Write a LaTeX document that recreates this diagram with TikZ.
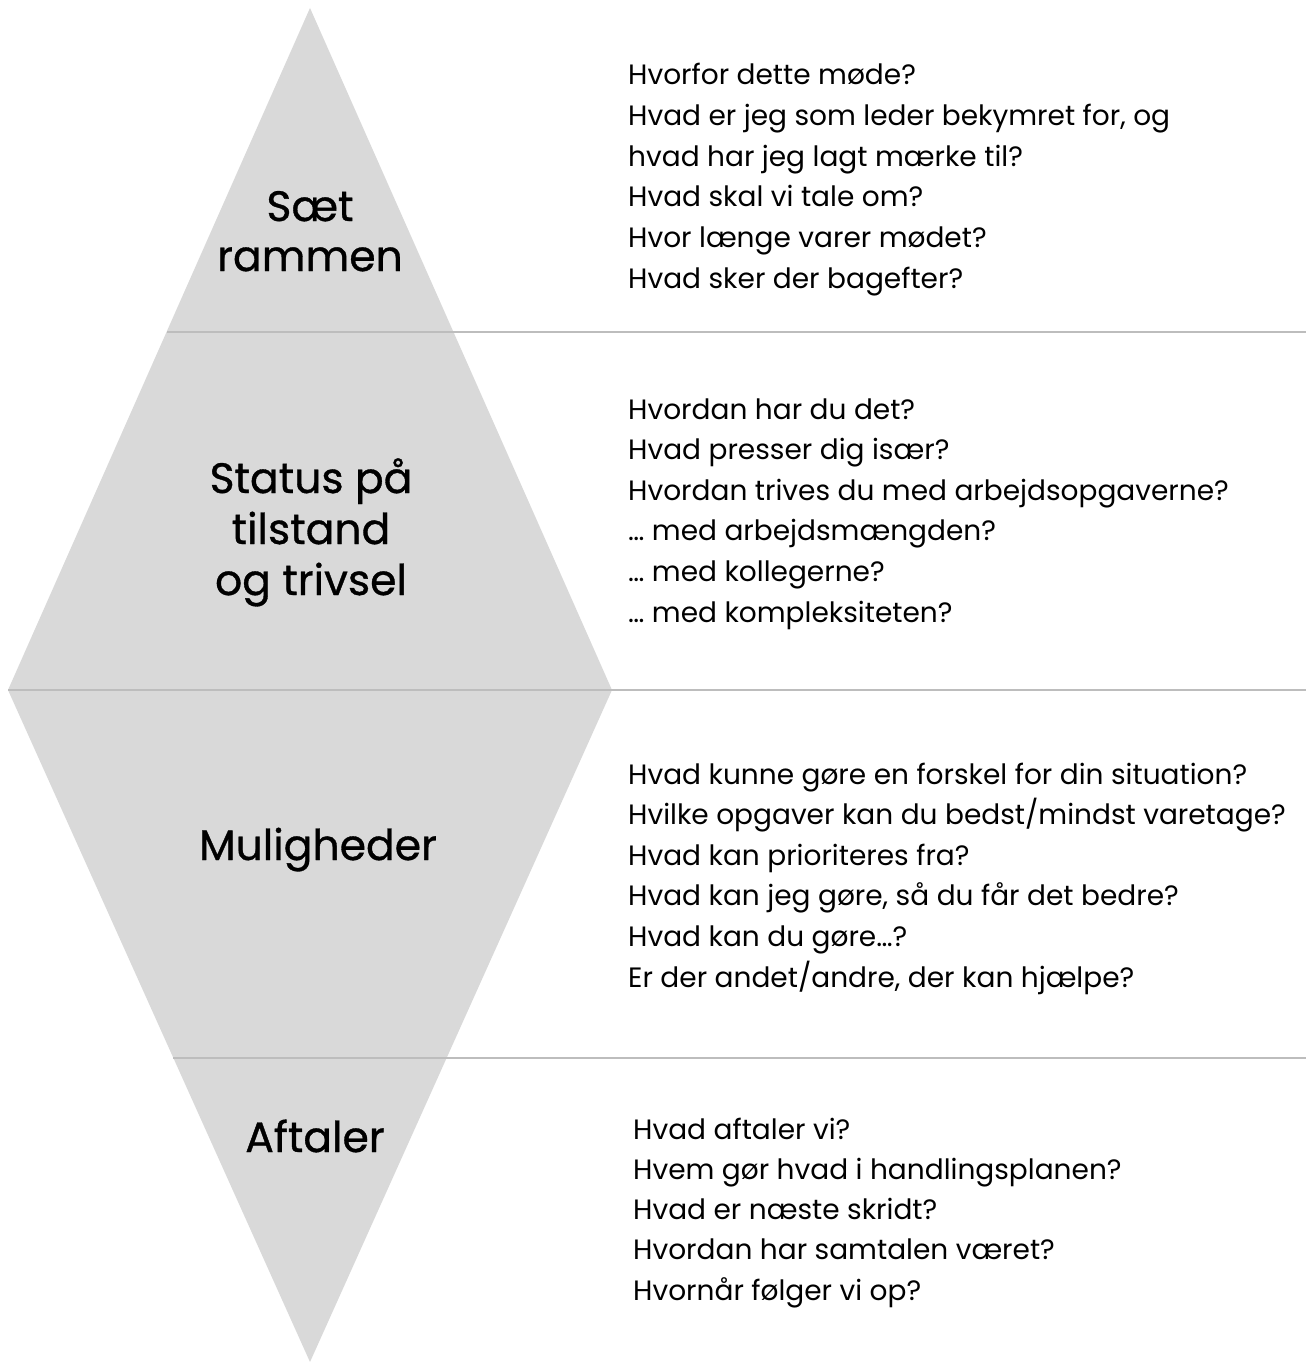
\documentclass[tikz,border=0pt]{standalone}
\usepackage{fontspec}
\setmainfont{Poppins}
\newfontfamily\titlefont[FakeBold=0.8]{Poppins}
\definecolor{diamondfill}{HTML}{D9D9D9}
\definecolor{sepline}{HTML}{BDBDBD}
\tikzset{
  qtext/.style={anchor=base west, inner sep=0pt, font=\fontsize{28}{40}\selectfont, text=black},
  ttext/.style={anchor=base, inner sep=0pt, font=\titlefont\fontsize{42.5}{51}\selectfont, text=black},
  sep/.style={draw=sepline, line width=1.6pt}
}
\begin{document}
\begin{tikzpicture}[x=1pt,y=-1pt]
\useasboundingbox (0,0) rectangle (1308,1362);
% diamond
\coordinate (top) at (310,8);
\coordinate (right) at (612,690);
\coordinate (bottom) at (310,1362);
\coordinate (left) at (8,690);
\fill[diamondfill] (top) -- (right) -- (bottom) -- (left) -- cycle;
% separators
\coordinate (s1a) at (167,332);   \coordinate (s1b) at (1306,332);
\coordinate (s2a) at (8,690);     \coordinate (s2b) at (1306,690);
\coordinate (s3a) at (173,1058);  \coordinate (s3b) at (1306,1058);
\draw[sep] (s1a) -- (s1b);
\draw[sep] (s2a) -- (s2b);
\draw[sep] (s3a) -- (s3b);
% titles
\node[ttext] (t1a) at (310,221) {Sæt};
\node[ttext] (t1b) at (310,271) {rammen};
\node[ttext] (t2a) at (311,493) {Status på};
\node[ttext] (t2b) at (311,544) {tilstand};
\node[ttext] (t2c) at (311,595) {og trivsel};
\node[ttext] (t3) at (318,860) {Muligheder};
\node[ttext] (t4) at (315,1152) {Aftaler};
% questions
\foreach \t [count=\i] in {Hvorfor dette møde?, {Hvad er jeg som leder bekymret for, og}, hvad har jeg lagt mærke til?, Hvad skal vi tale om?, Hvor længe varer mødet?, Hvad sker der bagefter?}
  \node[qtext] (qa\i) at (628,{85+(\i-1)*40.6}) {\t};
\foreach \t [count=\i] in {Hvordan har du det?, Hvad presser dig især?, Hvordan trives du med arbejdsopgaverne?, … med arbejdsmængden?, … med kollegerne?, … med kompleksiteten?}
  \node[qtext] (qb\i) at (628,{419+(\i-1)*40.6}) {\t};
\foreach \t [count=\i] in {Hvad kunne gøre en forskel for din situation?, Hvilke opgaver kan du bedst/mindst varetage?, Hvad kan prioriteres fra?, {Hvad kan jeg gøre, så du får det bedre?}, Hvad kan du gøre…?, {Er der andet/andre, der kan hjælpe?}}
  \node[qtext] (qc\i) at (628,{784+(\i-1)*40.6}) {\t};
\foreach \t [count=\i] in {Hvad aftaler vi?, Hvem gør hvad i handlingsplanen?, Hvad er næste skridt?, Hvordan har samtalen været?, Hvornår følger vi op?}
  \node[qtext] (qd\i) at (633,{1139+(\i-1)*40.3}) {\t};
\end{tikzpicture}
\end{document}
